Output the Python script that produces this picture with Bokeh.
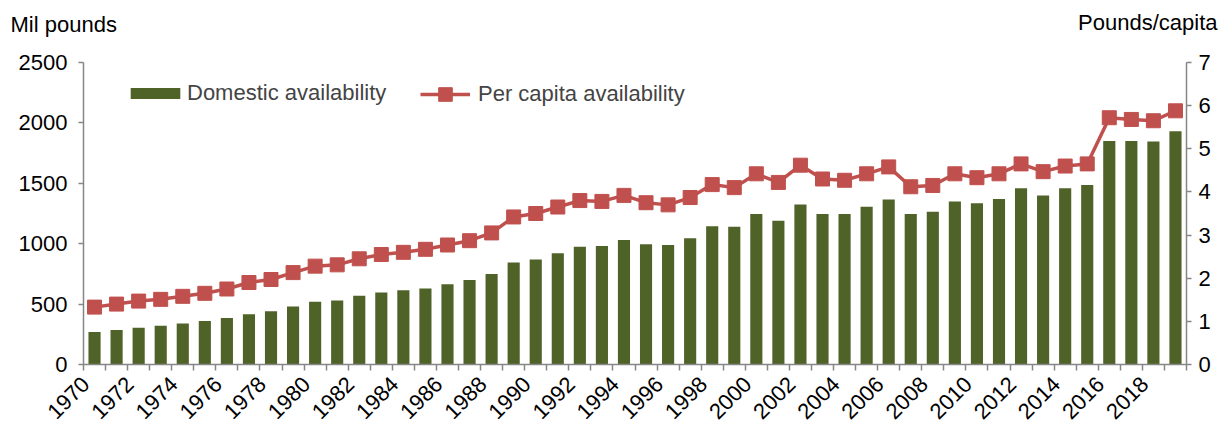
from math import pi
from bokeh.plotting import figure
from bokeh.models import (Range1d, LinearAxis, FixedTicker, Legend, LegendItem,
                          Title, ColumnDataSource)
from bokeh.embed import file_html
from bokeh.resources import INLINE

years = list(range(1970, 2020))
domestic = [270, 285, 305, 320, 340, 360, 385, 415, 440, 480,
            520, 530, 570, 595, 615, 630, 665, 700, 750, 845,
            870, 920, 975, 980, 1030, 995, 990, 1045, 1145, 1140,
            1245, 1190, 1325, 1245, 1245, 1305, 1365, 1245, 1265, 1350,
            1335, 1370, 1460, 1400, 1460, 1485, 1850, 1850, 1845, 1930]
per_capita = [1.33, 1.40, 1.47, 1.51, 1.58, 1.65, 1.75, 1.90, 1.97, 2.13,
              2.28, 2.31, 2.45, 2.55, 2.60, 2.67, 2.77, 2.87, 3.05, 3.42,
              3.50, 3.65, 3.80, 3.78, 3.92, 3.75, 3.70, 3.87, 4.17, 4.10,
              4.42, 4.22, 4.62, 4.30, 4.27, 4.42, 4.58, 4.12, 4.15, 4.42,
              4.33, 4.42, 4.65, 4.47, 4.60, 4.65, 5.72, 5.68, 5.65, 5.88]
tick_years = list(range(1970, 2019, 2))
left_ticks = [0, 500, 1000, 1500, 2000, 2500]
right_ticks = [0, 1, 2, 3, 4, 5, 6, 7]

FONT = "Liberation Sans"
GREY = "#868686"
BAR = "#4F6228"
RED = "#C0504D"
FS = "22px"

W, H = 1225, 428

src = ColumnDataSource(dict(year=years, dom=domestic, pc=per_capita))

p = figure(width=W, height=H, output_backend="svg", toolbar_location=None,
           x_range=Range1d(1969.5, 2019.5), y_range=Range1d(0, 2500),
           min_border_left=83, min_border_right=39, min_border_top=62,
           min_border_bottom=63)
p.extra_y_ranges = {"pc": Range1d(0, 7)}
p.xgrid.grid_line_color = None
p.ygrid.grid_line_color = None
p.outline_line_color = None
p.background_fill_color = "white"

# axis titles placed above the frame, on one line
p.title = Title(text="Mil pounds", align="left", offset=-73, standoff=-102,
                vertical_align="top",
                text_font=FONT, text_font_size=FS, text_font_style="normal",
                text_color="black")
p.add_layout(Title(text="Pounds/capita", align="right", offset=-31, standoff=-106,
                   vertical_align="top",
                   text_font=FONT, text_font_size=FS, text_font_style="normal",
                   text_color="black"), "above")

bars = p.vbar(x="year", top="dom", width=0.55, source=src, fill_color=BAR, line_color=None)
line = p.line(x="year", y="pc", source=src, y_range_name="pc", line_color=RED, line_width=3.5)
marks = p.scatter(x="year", y="pc", source=src, y_range_name="pc", marker="square",
                  size=14, fill_color=RED, line_color=RED)

right_axis = LinearAxis(y_range_name="pc", ticker=FixedTicker(ticks=right_ticks))
p.add_layout(right_axis, "right")

p.yaxis[0].ticker = FixedTicker(ticks=left_ticks)
label_pos = [y - 0.4 for y in tick_years]
p.xaxis.ticker = FixedTicker(ticks=label_pos, minor_ticks=[y - 0.5 for y in range(1970, 2021)])
p.xaxis.major_label_overrides = {pos: str(y) for pos, y in zip(label_pos, tick_years)}

for ax in p.axis:
    ax.axis_line_color = GREY
    ax.axis_line_width = 1.5
    ax.major_tick_line_color = GREY
    ax.major_tick_line_width = 1.5
    ax.major_tick_in = 0
    ax.major_tick_out = 5
    ax.minor_tick_line_color = None
    ax.major_label_text_font = FONT
    ax.major_label_text_font_size = FS
    ax.major_label_text_color = "black"

p.yaxis[0].major_label_standoff = 11
right_axis.major_label_standoff = 7

xa = p.xaxis[0]
xa.major_tick_line_color = None
xa.major_tick_out = 0
xa.minor_tick_line_color = GREY
xa.minor_tick_line_width = 1.5
xa.minor_tick_in = 0
xa.minor_tick_out = 6
xa.major_label_orientation = pi / 4
xa.major_label_standoff = 10
xa.major_label_text_font_size = "22px"

legend_bar = Legend(items=[LegendItem(label="Domestic availability", renderers=[bars])],
                    orientation="horizontal", location=(41, 258), border_line_color=None,
                    background_fill_alpha=0, label_text_font=FONT, label_text_font_size=FS,
                    glyph_width=62, glyph_height=14, label_standoff=1,
                    padding=0, margin=0)
legend_line = Legend(items=[LegendItem(label="Per capita availability", renderers=[line, marks])],
                     orientation="horizontal", location=(337, 253), border_line_color=None,
                     background_fill_alpha=0, label_text_font=FONT, label_text_font_size=FS,
                     glyph_width=50, glyph_height=34, label_standoff=8,
                     padding=0, margin=0)
p.add_layout(legend_bar)
p.add_layout(legend_line)

open("out.html", "w").write(file_html(p, INLINE))
